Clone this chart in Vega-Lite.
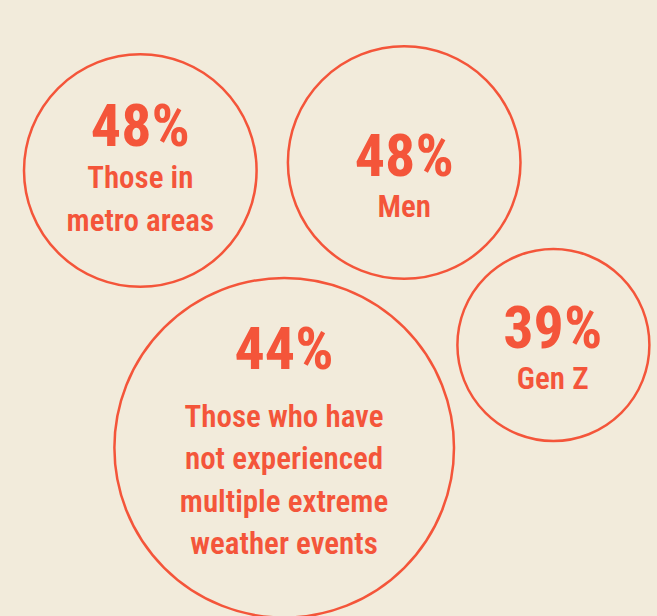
{
  "$schema": "https://vega.github.io/schema/vega-lite/v6.json",
  "width": 657,
  "height": 616,
  "autosize": {"type": "none"},
  "padding": 0,
  "background": "#F2EBDB",
  "config": {"view": {"stroke": null}},
  "datasets": {
    "circles": [
      {"group": "metro", "cx": 140.3, "cy": 170.5, "r": 116.3},
      {"group": "men", "cx": 404.2, "cy": 162.5, "r": 116.3},
      {"group": "weather", "cx": 284.2, "cy": 447.8, "r": 169.8},
      {"group": "genz", "cx": 553.4, "cy": 345.0, "r": 96.0}
    ],
    "pcts": [
      {"group": "metro", "text": "48%", "x": 140.3, "y": 146},
      {"group": "men", "text": "48%", "x": 404.2, "y": 175.7},
      {"group": "weather", "text": "44%", "x": 284, "y": 369.3},
      {"group": "genz", "text": "39%", "x": 552.7, "y": 348.3}
    ],
    "labels": [
      {"group": "metro", "text": "Those in", "x": 140.3, "y": 188},
      {"group": "metro", "text": "metro areas", "x": 140.3, "y": 230.5},
      {"group": "men", "text": "Men", "x": 404.2, "y": 216.7},
      {"group": "weather", "text": "Those who have", "x": 284, "y": 426.7},
      {"group": "weather", "text": "not experienced", "x": 284, "y": 469},
      {"group": "weather", "text": "multiple extreme", "x": 284, "y": 511.7},
      {"group": "weather", "text": "weather events", "x": 284, "y": 554},
      {"group": "genz", "text": "Gen Z", "x": 552.7, "y": 389.3}
    ]
  },
  "layer": [
    {
      "data": {"name": "circles"},
      "mark": {"type": "point", "shape": "circle", "filled": false, "stroke": "#F4553A", "strokeWidth": 2.5, "opacity": 1},
      "encoding": {
        "x": {"field": "cx", "type": "quantitative", "scale": {"domain": [0, 657], "nice": false, "zero": false}, "axis": null},
        "y": {"field": "cy", "type": "quantitative", "scale": {"domain": [0, 616], "nice": false, "zero": false, "reverse": true}, "axis": null},
        "size": {"field": "r", "type": "quantitative", "scale": {"type": "pow", "exponent": 2, "domain": [0, 100], "range": [0, 40000], "clamp": false}, "legend": null}
      }
    },
    {
      "data": {"name": "pcts"},
      "mark": {"type": "text", "font": "Roboto Condensed, Liberation Sans Narrow, sans-serif", "fontWeight": "bold", "fontSize": 60, "fill": "#F4553A", "align": "center", "baseline": "alphabetic"},
      "encoding": {
        "x": {"field": "x", "type": "quantitative", "scale": {"domain": [0, 657], "nice": false, "zero": false}, "axis": null},
        "y": {"field": "y", "type": "quantitative", "scale": {"domain": [0, 616], "nice": false, "zero": false, "reverse": true}, "axis": null},
        "text": {"field": "text"}
      }
    },
    {
      "data": {"name": "labels"},
      "mark": {"type": "text", "font": "Roboto Condensed, Liberation Sans Narrow, sans-serif", "fontWeight": 600, "fontSize": 31, "fill": "#F4553A", "align": "center", "baseline": "alphabetic"},
      "encoding": {
        "x": {"field": "x", "type": "quantitative", "scale": {"domain": [0, 657], "nice": false, "zero": false}, "axis": null},
        "y": {"field": "y", "type": "quantitative", "scale": {"domain": [0, 616], "nice": false, "zero": false, "reverse": true}, "axis": null},
        "text": {"field": "text"}
      }
    }
  ]
}
